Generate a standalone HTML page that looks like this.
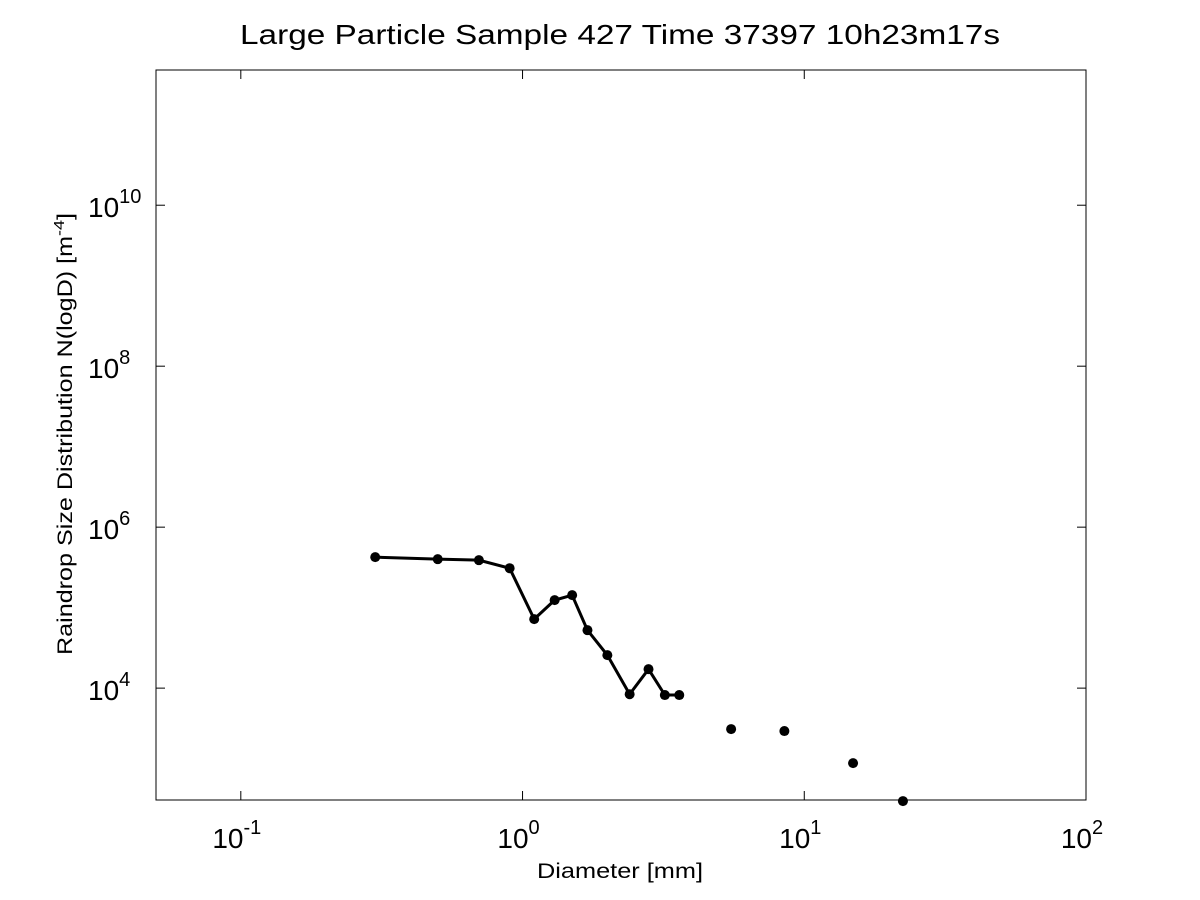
<!DOCTYPE html>
<html><head><meta charset="utf-8"><style>
body{margin:0;background:#fff;}
svg{display:block;font-family:"Liberation Sans",Arial,sans-serif;}
</style></head><body>
<svg id="chart" width="1200" height="900" viewBox="0 0 1200 900">
<rect x="0" y="0" width="1200" height="900" fill="#fff"/>
<text x="620" y="44" font-size="28" text-anchor="middle" textLength="760" lengthAdjust="spacingAndGlyphs">Large Particle Sample 427 Time 37397 10h23m17s</text>
<rect x="156" y="70" width="930" height="730" fill="none" stroke="#000" stroke-width="1"/>
<g id="xticks"></g>
<g id="yticks"></g>
<text x="620" y="878" font-size="21" text-anchor="middle" textLength="166" lengthAdjust="spacingAndGlyphs">Diameter [mm]</text>
<text transform="translate(72,655) rotate(-90)" font-size="21" textLength="442" lengthAdjust="spacingAndGlyphs">Raindrop Size Distribution N(logD) [m<tspan dy="-8" font-size="15">-4</tspan><tspan dy="8">]</tspan></text>
<g id="series"></g>
</svg>
<script>
const lineDiam=[0.30,0.5,0.7,0.9,1.1,1.3,1.5,1.7,2.0,2.4,2.8,3.2,3.6];
const lineN=[4.24e5,4.0e5,3.89e5,3.09e5,7.2e4,1.24e5,1.43e5,5.25e4,2.57e4,8.4e3,1.72e4,8.2e3,8.2e3];
const pointDiam=[5.5,8.5,14.9,22.4];
const pointN=[3.1e3,2.93e3,1.17e3,395];
const xTickExps=[-1,0,1,2];
const yTickExps=[4,6,8,10];
const NS="http://www.w3.org/2000/svg";
const X0=156,X1=1086,Y0=800,Y1=70;
const xmin=Math.log10(0.05),xmax=2,ymin=2.61,ymax=11.68;
function sx(v){return X0+(Math.log10(v)-xmin)/(xmax-xmin)*(X1-X0);}
function sy(v){return Y0-(Math.log10(v)-ymin)/(ymax-ymin)*(Y0-Y1);}
function mk(t,a,p){const e=document.createElementNS(NS,t);for(const k in a)e.setAttribute(k,a[k]);p.appendChild(e);return e;}
const xg=document.getElementById('xticks'),yg=document.getElementById('yticks'),sg=document.getElementById('series');
xTickExps.forEach(e=>{const x=sx(Math.pow(10,e));
 const t1=mk('line',{x1:x,x2:x,y1:Y0,y2:Y0-9,stroke:'#000'},xg);
 
 
 const t2=mk('line',{x1:x,x2:x,y1:Y1,y2:Y1+9,stroke:'#000'},xg);
 
 
 const tx=mk('text',{x:x-4,y:Y0+48,'font-size':28,'text-anchor':'middle'},xg);
 
 
 tx.innerHTML='10<tspan dy="-14" font-size="20">'+e+'</tspan>';
});
yTickExps.forEach(e=>{const y=sy(Math.pow(10,e));
 const t1=mk('line',{x1:X0,x2:X0+9,y1:y,y2:y,stroke:'#000'},yg);
 
 
 const t2=mk('line',{x1:X1,x2:X1-9,y1:y,y2:y,stroke:'#000'},yg);
 
 
 const tx=mk('text',{x:88,y:y+12,'font-size':28},yg);
 
 
 tx.innerHTML='10<tspan dy="-14" font-size="20">'+e+'</tspan>';
});
const pts=lineDiam.map((d,i)=>sx(d)+','+sy(lineN[i])).join(' ');
const pl=mk('polyline',{points:pts,fill:'none',stroke:'#000','stroke-width':3},sg);


lineDiam.forEach((d,i)=>{const c=mk('circle',{cx:sx(d),cy:sy(lineN[i]),r:5,fill:'#000'},sg);
 
 });
pointDiam.forEach((d,i)=>{const c=mk('circle',{cx:sx(d),cy:sy(pointN[i]),r:5,fill:'#000'},sg);
 
 });
</script>
</body></html>
